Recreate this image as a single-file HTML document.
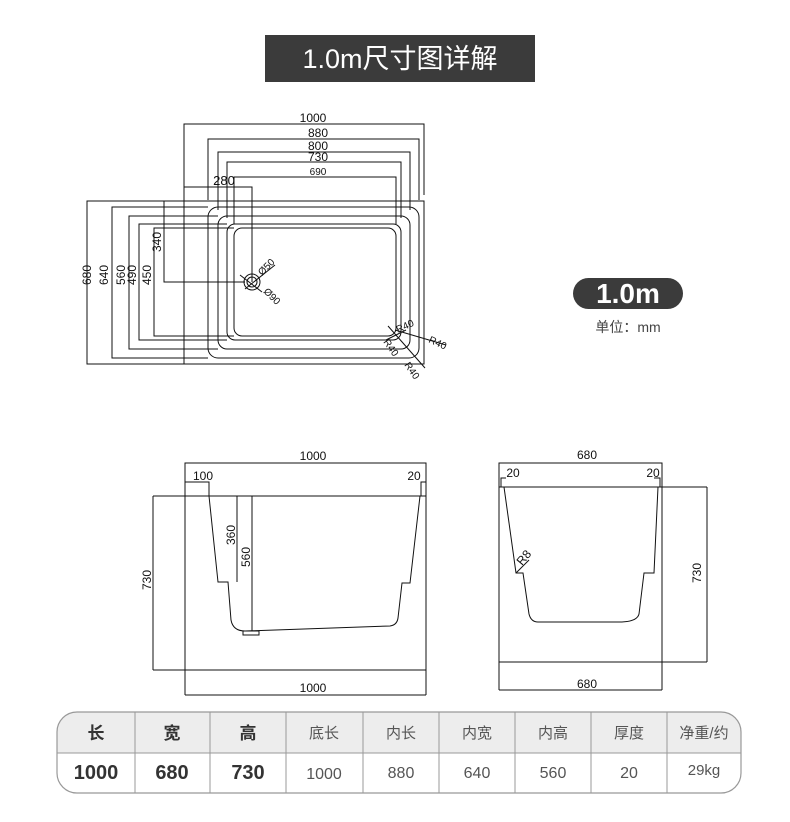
<!DOCTYPE html>
<html><head><meta charset="utf-8"><style>
body{margin:0;background:#fff;width:790px;height:822px;overflow:hidden;font-family:"Liberation Sans","Noto Sans CJK SC",sans-serif}
svg{position:absolute;left:0;top:0}
</style></head><body>
<svg width="790" height="822" viewBox="0 0 790 822" xmlns="http://www.w3.org/2000/svg">
<rect x="265" y="35" width="270" height="47" fill="#3b3b3b"/>
<text x="400" y="68" font-size="27" fill="#fff" text-anchor="middle" font-family="Liberation Sans,Noto Sans CJK SC,sans-serif">1.0m尺寸图详解</text>

<g stroke="#111" stroke-width="1" fill="none">
<!-- top view -->
<polyline points="184,364 184,124 424,124 424,195"/>
<polyline points="208,200 208,139 419,139 419,200"/>
<polyline points="218,210 218,152 410,152 410,210"/>
<polyline points="227,218 227,162 401,162 401,218"/>
<polyline points="234,224 234,177 396,177 396,224"/>
<polyline points="184,187 252,187 252,282"/>
<rect x="87" y="201" width="337" height="163"/>
<polyline points="208,207 112,207 112,358 208,358"/>
<polyline points="218,216 129,216 129,349 218,349"/>
<polyline points="227,224 139,224 139,340 227,340"/>
<polyline points="234,228 154,228 154,336 234,336"/>
<polyline points="164,201 164,282 245,282"/>
<rect x="208" y="207" width="211" height="151" rx="10"/>
<rect x="218" y="216" width="192" height="133" rx="9"/>
<rect x="227" y="224" width="174" height="116" rx="8"/>
<rect x="234" y="228" width="162" height="108" rx="8"/>
<circle cx="252" cy="282" r="8"/><circle cx="252" cy="282" r="5"/>
<line x1="245" y1="289" x2="275" y2="265"/>
<line x1="240" y1="275" x2="262" y2="292"/>
<line x1="388" y1="326" x2="425" y2="368"/>
<line x1="395" y1="330" x2="446" y2="345"/>
<line x1="386" y1="340" x2="406" y2="330"/>
<!-- front view -->
<polyline points="185,695 185,463 426,463 426,695"/>
<line x1="185" y1="695" x2="426" y2="695"/>
<line x1="153" y1="496" x2="426" y2="496"/>
<line x1="153" y1="670" x2="426" y2="670"/>
<line x1="153" y1="496" x2="153" y2="670"/>
<polyline points="185,482 209,482 209,496"/>
<polyline points="421,496 421,482 426,482"/>
<line x1="237" y1="496" x2="237" y2="582"/>
<line x1="252" y1="496" x2="252" y2="631"/>
<path d="M209,496 L218,582 L228,582 L231,620 Q233,631 245,631 L390,626 Q397,625 398,618 L402,583 L410,583 L420,496"/>
<rect x="243" y="631" width="16" height="4"/>
<!-- side view -->
<polyline points="499,690 499,463 662,463 662,690"/>
<line x1="499" y1="690" x2="662" y2="690"/>
<line x1="499" y1="487" x2="707" y2="487"/>
<line x1="499" y1="662" x2="707" y2="662"/>
<line x1="707" y1="487" x2="707" y2="662"/>
<polyline points="501,487 501,478 506,478"/>
<polyline points="654,478 660,478 660,487"/>
<path d="M504,487 L516,573 L523,573 L529,614 Q531,622 538,622 L619,622 Q637,622 639,614 L644,573 L654,573 L658,487"/>
<line x1="516" y1="573" x2="529" y2="560"/>
</g>

<g font-size="12" fill="#111" font-family="Liberation Sans,sans-serif">
<text x="313" y="122" text-anchor="middle">1000</text>
<text x="318" y="137" text-anchor="middle">880</text>
<text x="318" y="150" text-anchor="middle">800</text>
<text x="318" y="161" text-anchor="middle">730</text>
<text x="318" y="175" font-size="10" text-anchor="middle">690</text>
<text x="224" y="185" font-size="13" text-anchor="middle">280</text>
<text transform="translate(91,285) rotate(-90)">680</text>
<text transform="translate(108,285) rotate(-90)">640</text>
<text transform="translate(125,285) rotate(-90)">560</text>
<text transform="translate(136,285) rotate(-90)">490</text>
<text transform="translate(151,285) rotate(-90)">450</text>
<text transform="translate(161,252) rotate(-90)">340</text>
<text transform="translate(262,276) rotate(-45)" font-size="10">Ø50</text>
<text transform="translate(263,292) rotate(45)" font-size="10">Ø90</text>
<text transform="translate(398,333) rotate(-25)" font-size="10">R40</text>
<text transform="translate(428,342) rotate(25)" font-size="10">R40</text>
<text transform="translate(383,342) rotate(55)" font-size="10">R40</text>
<text transform="translate(404,365) rotate(55)" font-size="10">R40</text>
<text x="313" y="460" text-anchor="middle">1000</text>
<text x="203" y="480" text-anchor="middle">100</text>
<text x="414" y="480" text-anchor="middle">20</text>
<text transform="translate(235,545) rotate(-90)">360</text>
<text transform="translate(250,567) rotate(-90)">560</text>
<text transform="translate(151,590) rotate(-90)">730</text>
<text x="313" y="692" text-anchor="middle">1000</text>
<text x="587" y="459" text-anchor="middle">680</text>
<text x="513" y="477" text-anchor="middle">20</text>
<text x="653" y="477" text-anchor="middle">20</text>
<text transform="translate(522,566) rotate(-50)">R8</text>
<text transform="translate(701,583) rotate(-90)">730</text>
<text x="587" y="688" text-anchor="middle">680</text>
</g>

<rect x="573" y="278" width="110" height="31" rx="15.5" fill="#3b3b3b"/>
<text x="628" y="303" font-size="28" font-weight="bold" fill="#fff" text-anchor="middle">1.0m</text>
<text x="628" y="332" font-size="14" fill="#444" text-anchor="middle" font-family="Liberation Sans,Noto Sans CJK SC,sans-serif">单位：mm</text>

<!-- table -->
<defs><clipPath id="c"><rect x="57" y="712" width="684" height="81" rx="20"/></clipPath></defs>
<g clip-path="url(#c)">
<rect x="57" y="712" width="684" height="41" fill="#ededed"/>
<rect x="57" y="753" width="684" height="40" fill="#fff"/>
</g>
<rect x="57" y="712" width="684" height="81" rx="20" fill="none" stroke="#999" stroke-width="1.2"/>
<line x1="57" y1="753" x2="741" y2="753" stroke="#999"/>
<g stroke="#999">
<line x1="135" y1="712" x2="135" y2="793"/><line x1="210" y1="712" x2="210" y2="793"/>
<line x1="286" y1="712" x2="286" y2="793"/><line x1="363" y1="712" x2="363" y2="793"/>
<line x1="439" y1="712" x2="439" y2="793"/><line x1="515" y1="712" x2="515" y2="793"/>
<line x1="591" y1="712" x2="591" y2="793"/><line x1="667" y1="712" x2="667" y2="793"/>
</g>
<g font-family="Liberation Sans,Noto Sans CJK SC,sans-serif" text-anchor="middle" fill="#333">
<g font-size="17" font-weight="bold">
<text x="96" y="739">长</text><text x="172" y="739">宽</text><text x="248" y="739">高</text>
<text x="96" y="779" font-size="20">1000</text><text x="172" y="779" font-size="20">680</text><text x="248" y="779" font-size="20">730</text>
</g>
<g font-size="15" fill="#555">
<text x="324" y="738">底长</text><text x="401" y="738">内长</text><text x="477" y="738">内宽</text>
<text x="553" y="738">内高</text><text x="629" y="738">厚度</text><text x="704" y="738">净重/约</text>
<text x="324" y="779" font-size="16">1000</text><text x="401" y="778" font-size="16">880</text><text x="477" y="778" font-size="16">640</text>
<text x="553" y="778" font-size="16">560</text><text x="629" y="778" font-size="16">20</text><text x="704" y="775" font-size="15">29kg</text>
</g>
</g>
</svg>
</body></html>
